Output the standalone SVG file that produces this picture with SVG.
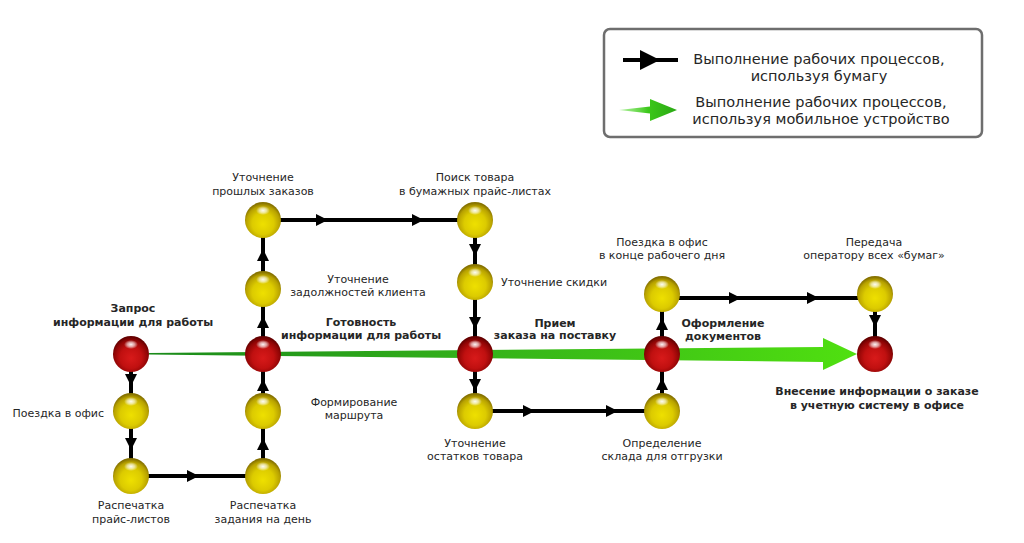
<svg xmlns="http://www.w3.org/2000/svg" width="1024" height="543" viewBox="0 0 1024 543">
<style>
text{font-family:"DejaVu Sans",Verdana,sans-serif;fill:#262626;text-anchor:middle}
.r{font-size:11px}
.b{font-size:11px;font-weight:bold}
.lg{font-size:14.5px}
.ln{fill:none;stroke:#000;stroke-width:4;marker-mid:url(#ah)}
.red{fill:url(#gRed)}
.yel{fill:url(#gYel)}
.hl{fill:url(#gHl)}
</style>
<defs>
<radialGradient id="gRed" cx="50%" cy="58%" r="55%" fx="50%" fy="62%">
<stop offset="0" stop-color="#d81a1a"/>
<stop offset="0.55" stop-color="#c01010"/>
<stop offset="0.85" stop-color="#900505"/>
<stop offset="1" stop-color="#640000"/>
</radialGradient>
<radialGradient id="gYel" cx="50%" cy="58%" r="55%" fx="50%" fy="62%">
<stop offset="0" stop-color="#eee000"/>
<stop offset="0.55" stop-color="#dccb00"/>
<stop offset="0.85" stop-color="#b8a200"/>
<stop offset="1" stop-color="#867200"/>
</radialGradient>
<radialGradient id="gHl" cx="50%" cy="50%" r="50%">
<stop offset="0" stop-color="#fff" stop-opacity="0.95"/>
<stop offset="0.5" stop-color="#fff" stop-opacity="0.6"/>
<stop offset="1" stop-color="#fff" stop-opacity="0"/>
</radialGradient>
<linearGradient id="gGreen" x1="149" y1="0" x2="857" y2="0" gradientUnits="userSpaceOnUse">
<stop offset="0" stop-color="#1a8a1a"/>
<stop offset="0.45" stop-color="#33b01a"/>
<stop offset="1" stop-color="#50e010"/>
</linearGradient>
<linearGradient id="gGreenL" x1="619" y1="0" x2="677" y2="0" gradientUnits="userSpaceOnUse">
<stop offset="0" stop-color="#7ee860" stop-opacity="0.6"/>
<stop offset="0.5" stop-color="#3cc81a"/>
<stop offset="1" stop-color="#2aa814"/>
</linearGradient>
<marker id="ah" viewBox="0 0 12 12" refX="6" refY="6" markerWidth="12" markerHeight="12" markerUnits="userSpaceOnUse" orient="auto">
<path d="M0,0 L12,6 L0,12 Z" fill="#000"/>
</marker>
<marker id="ahL" viewBox="0 0 20 20" refX="10" refY="10" markerWidth="20" markerHeight="20" markerUnits="userSpaceOnUse" orient="auto">
<path d="M0,0 L20,10 L0,20 Z" fill="#000"/>
</marker>
</defs>

<g id="legend">
<rect x="604" y="29" width="378" height="108" rx="6" ry="6" fill="#fff" stroke="#6e6e6e" stroke-width="2.5"/>
<path d="M623,60 L650,60 L678,60" fill="none" stroke="#000" stroke-width="4" marker-mid="url(#ahL)"/>
<text class="lg" x="819" y="64">Выполнение рабочих процессов,</text>
<text class="lg" x="819" y="81">используя бумагу</text>
<polygon points="619,110 650,106.5 650,99 677,110 650,121 650,113.5" fill="url(#gGreenL)"/>
<text class="lg" x="821" y="107">Выполнение рабочих процессов,</text>
<text class="lg" x="821" y="124">используя мобильное устройство</text>
</g>

<g id="connectors">
<polygon id="mobile-arrow" points="149,353 823,347 823,338 857,354 823,370 823,362 149,354.5" fill="url(#gGreen)"/>
<path class="ln" d="M131,354 L131,380 L131,411"/>
<path class="ln" d="M131,411 L131,444 L131,476"/>
<path class="ln" d="M131,476 L193,476 L263,476"/>
<path class="ln" d="M263,476 L263,444 L263,411"/>
<path class="ln" d="M263,411 L263,385 L263,354"/>
<path class="ln" d="M263,354 L263,322 L263,289"/>
<path class="ln" d="M263,289 L263,255 L263,220"/>
<path class="ln" d="M263,220 L322,220 L418,220 L475,220"/>
<path class="ln" d="M475,220 L475,250 L475,282"/>
<path class="ln" d="M475,282 L475,323 L475,354"/>
<path class="ln" d="M475,354 L475,385 L475,411"/>
<path class="ln" d="M475,411 L529,411 L612,411 L662,411"/>
<path class="ln" d="M662,411 L662,384 L662,354"/>
<path class="ln" d="M662,354 L662,324 L662,294"/>
<path class="ln" d="M662,298 L735,298 L813,298 L875,298"/>
<path class="ln" d="M875,294 L875,321 L875,354"/>
</g>

<g id="n-zapros">
<circle class="red" cx="131" cy="354" r="18"/>
<ellipse class="hl" cx="131" cy="344.5" rx="7" ry="4.5"/>
<text class="b" x="133" y="312">Запрос</text>
<text class="b" x="133" y="326">информации для работы</text>
</g>
<g id="n-poezdka">
<circle class="yel" cx="131" cy="411" r="18"/>
<ellipse class="hl" cx="131" cy="401.5" rx="7" ry="4.5"/>
<text class="r" x="104" y="417" style="text-anchor:end">Поездка в офис</text>
</g>
<g id="n-raspech-prais">
<circle class="yel" cx="131" cy="476" r="18"/>
<ellipse class="hl" cx="131" cy="466.5" rx="7" ry="4.5"/>
<text class="r" x="131" y="509">Распечатка</text>
<text class="r" x="131" y="523">прайс-листов</text>
</g>
<g id="n-raspech-zad">
<circle class="yel" cx="263" cy="476" r="18"/>
<ellipse class="hl" cx="263" cy="466.5" rx="7" ry="4.5"/>
<text class="r" x="263" y="509">Распечатка</text>
<text class="r" x="263" y="523">задания на день</text>
</g>
<g id="n-marshrut">
<circle class="yel" cx="263" cy="411" r="18"/>
<ellipse class="hl" cx="263" cy="401.5" rx="7" ry="4.5"/>
<text class="r" x="354" y="406">Формирование</text>
<text class="r" x="354" y="419">маршрута</text>
</g>
<g id="n-gotovnost">
<circle class="red" cx="263" cy="354" r="18"/>
<ellipse class="hl" cx="263" cy="344.5" rx="7" ry="4.5"/>
<text class="b" x="361" y="326">Готовность</text>
<text class="b" x="361" y="339">информации для работы</text>
</g>
<g id="n-zadolzh">
<circle class="yel" cx="263" cy="289" r="18"/>
<ellipse class="hl" cx="263" cy="279.5" rx="7" ry="4.5"/>
<text class="r" x="358" y="283">Уточнение</text>
<text class="r" x="358" y="296">задолжностей клиента</text>
</g>
<g id="n-proshl">
<circle class="yel" cx="263" cy="220" r="18"/>
<ellipse class="hl" cx="263" cy="210.5" rx="7" ry="4.5"/>
<text class="r" x="263" y="181">Уточнение</text>
<text class="r" x="263" y="195">прошлых заказов</text>
</g>
<g id="n-poisk">
<circle class="yel" cx="475" cy="220" r="18"/>
<ellipse class="hl" cx="475" cy="210.5" rx="7" ry="4.5"/>
<text class="r" x="475" y="181">Поиск товара</text>
<text class="r" x="475" y="195">в бумажных прайс-листах</text>
</g>
<g id="n-skidki">
<circle class="yel" cx="475" cy="282" r="18"/>
<ellipse class="hl" cx="475" cy="272.5" rx="7" ry="4.5"/>
<text class="r" x="501" y="286" style="text-anchor:start">Уточнение скидки</text>
</g>
<g id="n-priem">
<circle class="red" cx="475" cy="354" r="18"/>
<ellipse class="hl" cx="475" cy="344.5" rx="7" ry="4.5"/>
<text class="b" x="555" y="327">Прием</text>
<text class="b" x="555" y="339">заказа на поставку</text>
</g>
<g id="n-ostatki">
<circle class="yel" cx="475" cy="411" r="18"/>
<ellipse class="hl" cx="475" cy="401.5" rx="7" ry="4.5"/>
<text class="r" x="475" y="447">Уточнение</text>
<text class="r" x="475" y="460">остатков товара</text>
</g>
<g id="n-sklad">
<circle class="yel" cx="662" cy="411" r="18"/>
<ellipse class="hl" cx="662" cy="401.5" rx="7" ry="4.5"/>
<text class="r" x="662" y="447">Определение</text>
<text class="r" x="662" y="460">склада для отгрузки</text>
</g>
<g id="n-oformlenie">
<circle class="red" cx="662" cy="354" r="18"/>
<ellipse class="hl" cx="662" cy="344.5" rx="7" ry="4.5"/>
<text class="b" x="723" y="327">Оформление</text>
<text class="b" x="723" y="340">документов</text>
</g>
<g id="n-poezdka-konec">
<circle class="yel" cx="662" cy="294" r="18"/>
<ellipse class="hl" cx="662" cy="284.5" rx="7" ry="4.5"/>
<text class="r" x="662" y="246">Поездка в офис</text>
<text class="r" x="662" y="259">в конце рабочего дня</text>
</g>
<g id="n-peredacha">
<circle class="yel" cx="875" cy="294" r="18"/>
<ellipse class="hl" cx="875" cy="284.5" rx="7" ry="4.5"/>
<text class="r" x="874" y="246">Передача</text>
<text class="r" x="874" y="259">оператору всех «бумаг»</text>
</g>
<g id="n-vnesenie">
<circle class="red" cx="875" cy="354" r="18"/>
<ellipse class="hl" cx="875" cy="344.5" rx="7" ry="4.5"/>
<text class="b" x="877" y="395">Внесение информации о заказе</text>
<text class="b" x="877" y="409">в учетную систему в офисе</text>
</g>
</svg>
